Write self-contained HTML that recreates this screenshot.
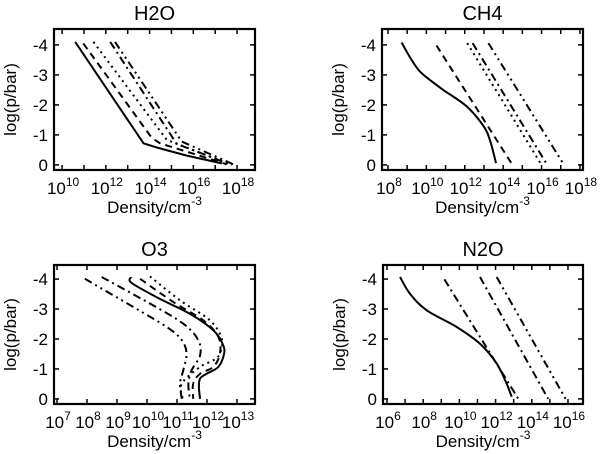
<!DOCTYPE html>
<html><head><meta charset="utf-8"><style>
html,body{margin:0;padding:0;background:#fff}
svg{display:block;font-family:"Liberation Sans",sans-serif}
</style></head><body>
<svg id="fig" width="600" height="454" viewBox="0 0 600 454" xmlns="http://www.w3.org/2000/svg"></svg>
<script>
// ---- data (log10 density, log10 p) ----
const h2oSolid = [[10.6,-4.1],[13.72,-0.72],[14.33,-0.58],[15.7,-0.31],[17.3,-0.05]];
const h2oDashed = [[10.97,-4.05],[14.1,-0.9],[14.48,-0.72],[17.53,-0.02]];
const h2oDotted = [[11.43,-4.1],[14.79,-0.83],[17.68,-0.02]];
const h2oDashDot = [[12.2,-4.1],[15.24,-0.7],[17.75,0]];
const h2oDashDotDot = [[12.42,-4.1],[15.47,-0.78],[17.83,-0.02]];

const ch4Solid = [[8.71,-4.08],[9.23,-3.5],[9.67,-3.11],[10.19,-2.83],[10.88,-2.5],[12.1,-1.95],[12.97,-1.3],[13.31,-0.83],[13.63,-0.06]];
const ch4Dashed = [[10.53,-3.98],[14.49,0]];
const ch4Dotted = [[12.13,-4.06],[16.0,0]];
const ch4DashDot = [[12.41,-4.06],[16.3,0]];
const ch4DashDotDot = [[13.23,-4.06],[17.17,0]];

const o3Solid = [[9.47,-4.07],[9.49,-3.87],[10.43,-3.34],[11.43,-2.84],[12.21,-2.29],[12.52,-1.84],[12.57,-1.51],[12.38,-1.07],[11.99,-0.84],[11.77,-0.68],[11.73,-0.4],[11.77,0]];
const o3Dashed = [[9.77,-4.01],[10.88,-3.23],[11.88,-2.62],[12.38,-2.07],[12.43,-1.51],[12.21,-1.07],[11.77,-0.84],[11.54,-0.51],[11.54,0]];
const o3Dotted = [[10.1,-4.09],[11.1,-3.29],[12.1,-2.62],[12.49,-2.01],[12.43,-1.51],[12.21,-1.29],[11.77,-1.07],[11.16,-0.51],[11.19,0]];
const o3DashDot = [[8.49,-4.07],[10.1,-3.18],[11.21,-2.51],[11.71,-1.96],[11.77,-1.46],[11.49,-0.96],[11.38,-0.51],[11.43,0]];
const o3DashDotDot = [[7.93,-4.01],[9.54,-3.07],[10.66,-2.4],[11.16,-1.96],[11.32,-1.51],[11.21,-0.96],[11.1,-0.51],[11.16,0]];

const n2oSolid = [[6.72,-4.07],[7.27,-3.51],[8.19,-2.96],[9.85,-2.4],[11.14,-1.84],[12.06,-1.18],[12.61,-0.51],[12.89,-0.07]];
const n2oDashDotA = [[9.17,-3.99],[13.26,0]];
const n2oDashDotB = [[11.14,-4.07],[14.91,0]];
const n2oDashDotDot = [[12.06,-4.07],[15.87,0]];

const yTicks = [0,-1,-2,-3,-4];
const h2oXLabels = [10,12,14,16,18];
const ch4XLabels = [8,10,12,14,16,18];
const o3XLabels = [7,8,9,10,11,12,13];
const n2oXLabels = [6,8,10,12,14,16];

const NS="http://www.w3.org/2000/svg";
const svg=document.getElementById('fig');
function mk(tag,attrs,parent){const e=document.createElementNS(NS,tag);for(const k in attrs)e.setAttribute(k,attrs[k]);(parent||svg).appendChild(e);return e;}
const dashes={solid:'',dashed:'7,5',dotted:'2,4',dashdot:'8,4,2,4',dashdotdot:'8,4,2,4,2,4'};

function smoothPath(pts,smooth){
  if(!smooth||pts.length<3) return pts.map((p,i)=>(i?'L':'M')+p[0].toFixed(1)+','+p[1].toFixed(1)).join('');
  let d='M'+pts[0][0].toFixed(1)+','+pts[0][1].toFixed(1);
  for(let i=0;i<pts.length-1;i++){
    const p0=pts[Math.max(0,i-1)],p1=pts[i],p2=pts[i+1],p3=pts[Math.min(pts.length-1,i+2)];
    const c1=[p1[0]+(p2[0]-p0[0])/6,p1[1]+(p2[1]-p0[1])/6];
    const c2=[p2[0]-(p3[0]-p1[0])/6,p2[1]-(p3[1]-p1[1])/6];
    d+='C'+c1[0].toFixed(1)+','+c1[1].toFixed(1)+' '+c2[0].toFixed(1)+','+c2[1].toFixed(1)+' '+p2[0].toFixed(1)+','+p2[1].toFixed(1);
  }
  return d;
}

function panel(name,box,xd,yd,labels,series,smooth){
  const g=mk('g',{});
  
  
  const [L,T,R,B]=box;
  const sx=v=>L+(v-xd[0])/(xd[1]-xd[0])*(R-L);
  const sy=v=>T+(v-yd[0])/(yd[1]-yd[0])*(B-T);
  series.forEach(s=>{
    const pts=s.data.map(d=>[sx(d[0]),sy(d[1])]);
    const p=mk('path',{d:smoothPath(pts,smooth),fill:'none',stroke:'#000','stroke-width':2,'stroke-dasharray':dashes[s.style]},g);
    
    
  });
  const fr=mk('rect',{x:L,y:T,width:R-L,height:B-T,fill:'none',stroke:'#000','stroke-width':2.2},g);
  
  
  yTicks.forEach(t=>{
    const y=sy(t);
    mk('line',{x1:L,x2:L+5,y1:y,y2:y,stroke:'#000','stroke-width':1.5},g);
    mk('line',{x1:R,x2:R-5,y1:y,y2:y,stroke:'#000','stroke-width':1.5},g);
    const tx=mk('text',{x:L-6,y:y+6,'text-anchor':'end','font-size':17},g);
    tx.textContent=t===0?'0':String(t);
    
    
  });
  for(let d=Math.ceil(xd[0]);d<=Math.floor(xd[1]);d++){
    const x=sx(d);
    mk('line',{x1:x,x2:x,y1:B,y2:B-5,stroke:'#000','stroke-width':1.5},g);
    mk('line',{x1:x,x2:x,y1:T,y2:T+5,stroke:'#000','stroke-width':1.5},g);
  }
  labels.forEach(d=>{
    const x=sx(d);
    const tx=mk('text',{x:x+1,y:B+24,'text-anchor':'middle','font-size':17},g);
    
    
    tx.appendChild(document.createTextNode('10'));
    const sp=mk('tspan',{dy:-8,'font-size':12},tx);sp.textContent=String(d);
  });
  const mid=(L+R)/2;
  const ti=mk('text',{x:mid,y:T-9,'text-anchor':'middle','font-size':20},g);
  ti.textContent=name;
  
  
  const xl=mk('text',{x:mid,y:B+43,'text-anchor':'middle','font-size':17},g);
  
  
  xl.appendChild(document.createTextNode('Density/cm'));
  const s2=mk('tspan',{dy:-8,'font-size':12},xl);s2.textContent='-3';
  const yl=mk('text',{x:0,y:0,'text-anchor':'middle','font-size':17,transform:`translate(${L-38},${(T+B)/2}) rotate(-90)`},g);
  yl.textContent='log(p/bar)';
  
  
}
panel('H2O',[54,29,255,170],[9.63,18.82],[-4.53,0.17],h2oXLabels,[
 {data:h2oSolid,style:'solid'},{data:h2oDashed,style:'dashed'},{data:h2oDotted,style:'dotted'},{data:h2oDashDot,style:'dashdot'},{data:h2oDashDotDot,style:'dashdotdot'}],false);
panel('CH4',[382,29,583,170],[7.69,18.16],[-4.53,0.17],ch4XLabels,[
 {data:ch4Solid,style:'solid'},{data:ch4Dashed,style:'dashed'},{data:ch4Dotted,style:'dotted'},{data:ch4DashDot,style:'dashdot'},{data:ch4DashDotDot,style:'dashdotdot'}],true);
panel('O3',[54,265,255,404],[6.9,13.6],[-4.47,0.17],o3XLabels,[
 {data:o3Solid,style:'solid'},{data:o3Dashed,style:'dashed'},{data:o3Dotted,style:'dotted'},{data:o3DashDot,style:'dashdot'},{data:o3DashDotDot,style:'dashdotdot'}],true);
panel('N2O',[383,265,583,404],[5.78,16.83],[-4.47,0.17],n2oXLabels,[
 {data:n2oSolid,style:'solid'},{data:n2oDashDotA,style:'dashdot'},{data:n2oDashDotB,style:'dashdot'},{data:n2oDashDotDot,style:'dashdotdot'}],true);
</script>
</body></html>
